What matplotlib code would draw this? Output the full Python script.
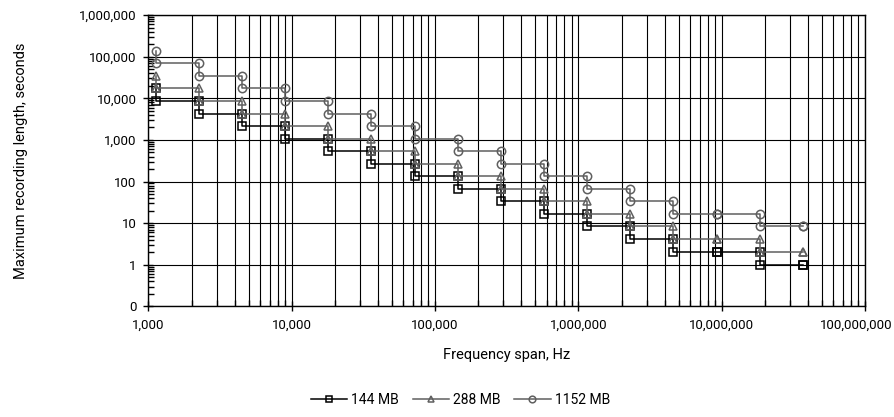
import numpy as np
import matplotlib
matplotlib.use('Agg')
import matplotlib.pyplot as plt
from matplotlib.ticker import FuncFormatter, LogLocator, NullFormatter

# frequency spans where the recording length steps down
freqs = [1123, 2246, 4492, 8984, 17970, 35940, 71880, 143700, 287500,
         575000, 1150000, 2300000, 4600000, 9200000, 18400000, 36800000]

# level before the first step, then the level after each step (seconds)
mb144 = [17200, 8600, 4300, 2150, 1075, 537, 269, 134, 67, 33.6, 16.8,
         8.4, 4.2, 2, 2, 1, 1]
mb288 = [34400, 17200, 8600, 4300, 2150, 1075, 537, 269, 134, 67, 33.6,
         16.8, 8.4, 4.2, 4.2, 2, 2]
mb1152 = [137600, 68800, 34400, 17200, 8600, 4300, 2150, 1075, 537, 269,
          134, 67, 33.6, 16.8, 16.8, 8.4, 8.4]

labels = ['144 MB', '288 MB', '1152 MB']

plt.rcParams['font.family'] = ['Roboto', 'DejaVu Sans']
plt.rcParams['font.size'] = 10.5


def steps(vals):
    x = np.repeat(freqs, 2)
    y = np.column_stack([vals[:-1], vals[1:]]).ravel()
    return x, y


fig = plt.figure(figsize=(8.94, 4.17), dpi=100)
ax = fig.add_axes([0.166, 0.265, 0.8016, 0.699])

styles = [('black', 's'), ('#5f5f5f', '^'), ('#5f5f5f', 'o')]
for vals, lab, (c, m) in zip([mb144, mb288, mb1152], labels, styles):
    x, y = steps(vals)
    ax.plot(x, y, color=c, lw=1.1, marker=m, ms=6, mfc='none',
            mec=c, mew=1.1, label=lab)

ax.set_xscale('log')
ax.set_yscale('log')
ax.set_xlim(1e3, 1e8)
ax.set_ylim(0.1, 1e6)

xmax = 1e8
# the last x label is drawn separately so it stays inside the picture
ax.xaxis.set_major_formatter(FuncFormatter(
    lambda v, p: '' if v >= xmax else f"{v:,.0f}"))
ax.yaxis.set_major_formatter(FuncFormatter(lambda v, p: f"{v:,.0f}"))
ax.xaxis.set_major_locator(LogLocator(base=10, numticks=10))
ax.yaxis.set_major_locator(LogLocator(base=10, numticks=10))
ax.xaxis.set_minor_locator(LogLocator(base=10, subs=np.arange(2, 10), numticks=20))
ax.yaxis.set_minor_locator(LogLocator(base=10, subs=np.arange(2, 10), numticks=20))
ax.xaxis.set_minor_formatter(NullFormatter())
ax.yaxis.set_minor_formatter(NullFormatter())

ax.annotate(f"{xmax:,.0f}", xy=(xmax, 0), xycoords=('data', 'axes fraction'),
            xytext=(-6.5, -8.5), textcoords='offset points',
            ha='center', va='top', fontsize=9.5)

ax.grid(True, which='major', color='black', lw=0.8)
ax.grid(True, which='minor', axis='x', color='black', lw=0.8)
ax.tick_params(which='major', direction='inout', length=7, width=1, pad=5,
               labelsize=9.5)
ax.tick_params(which='minor', direction='in', length=4, width=1)
for s in ax.spines.values():
    s.set_color('black')
    s.set_linewidth(1)

ax.set_xlabel('Frequency span, Hz', labelpad=12)
ax.set_ylabel('Maximum recording length, seconds', labelpad=37)

fig.legend(loc='center', bbox_to_anchor=(0.515, 0.04), ncol=3, frameon=False,
           handlelength=2.6, columnspacing=1.0, handletextpad=0.3,
           markerscale=0.8, fontsize=10)

fig.savefig('out.png', dpi=100)
